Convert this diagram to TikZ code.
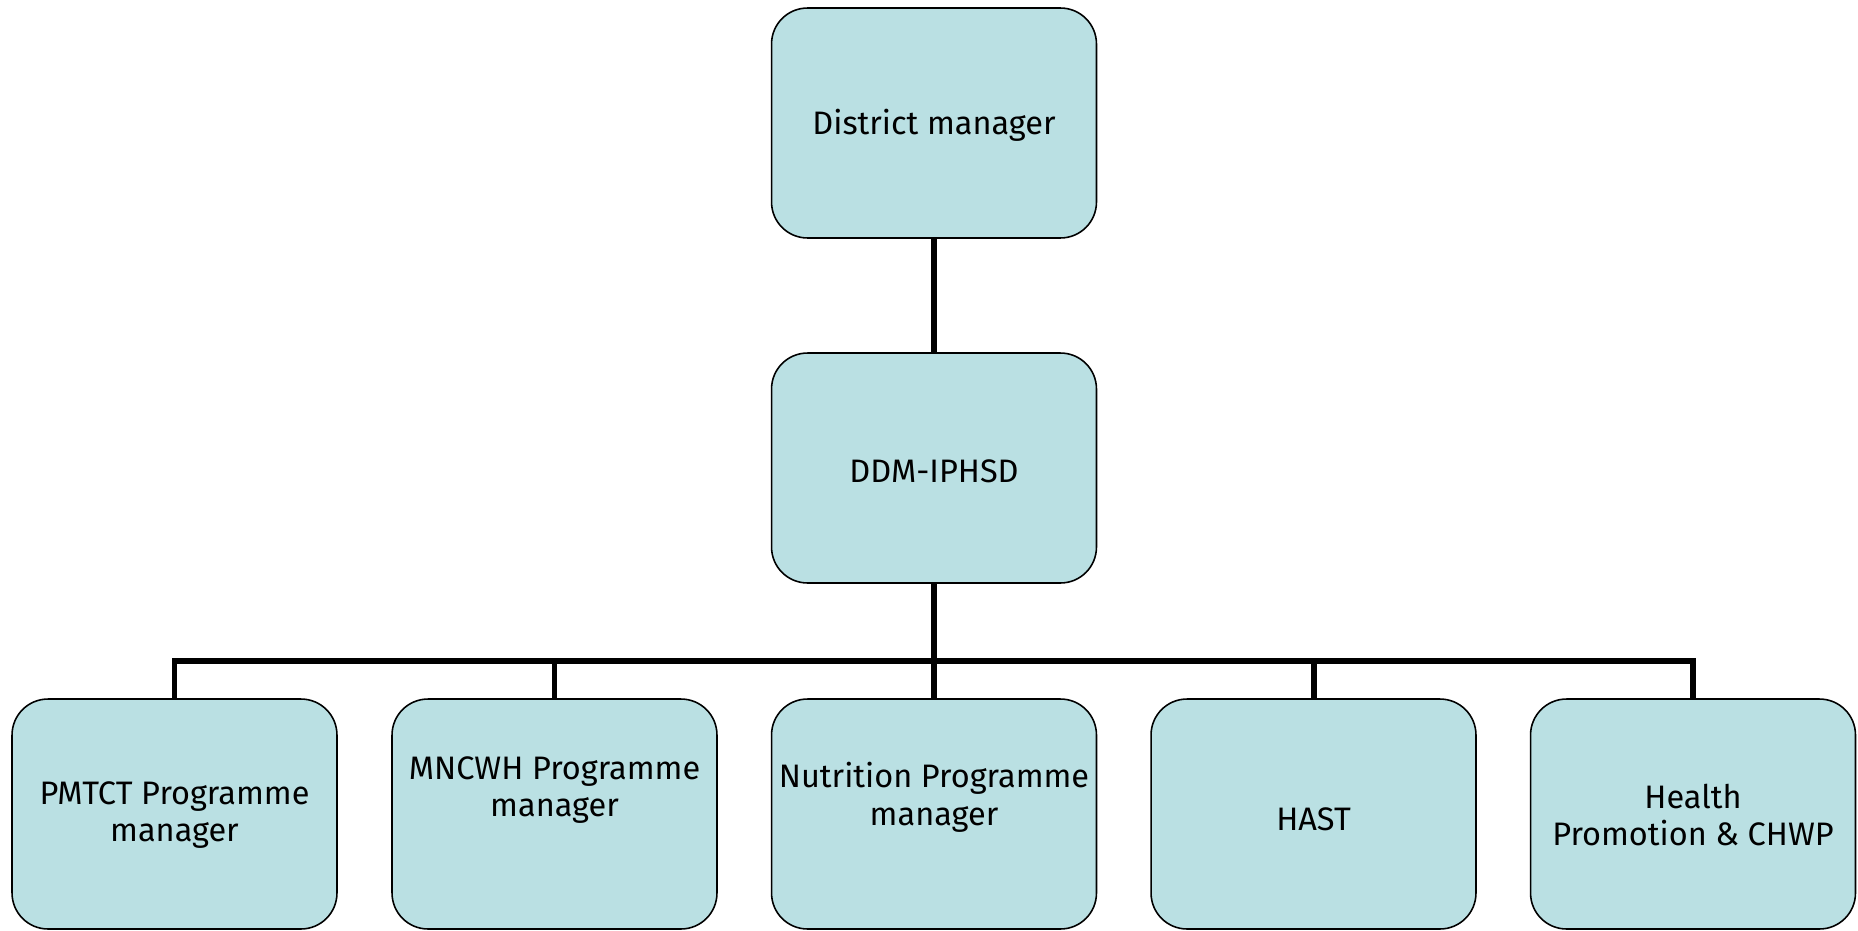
\documentclass[tikz,border=0pt]{standalone}
\usepackage{fontspec}
\setmainfont{Fira Sans}
\begin{document}
\begin{tikzpicture}[x=0.02cm,y=-0.02cm,
  box/.style={draw=black, line width=0.9pt, fill=boxfill, rounded corners=0.72cm,
    minimum width=6.5cm, minimum height=4.6cm, inner sep=0pt, align=center,
    font=\fontsize{18.5}{21.5}\selectfont},
  lbl/.style={font=\fontsize{18.5}{21.5}\selectfont, align=center, inner sep=0pt},
  conn/.style={line width=3.4pt}]
\definecolor{boxfill}{HTML}{BAE0E3}
\useasboundingbox (0,0) rectangle (1858,930);
\node[box] (dm) at (934,123) {};
\node[box] (ddm) at (934,468) {};
\node[box] (p1) at (174.5,814) {};
\node[box] (p2) at (554.5,814) {};
\node[box] (p3) at (934,814) {};
\node[box] (p4) at (1313.5,814) {};
\node[box] (p5) at (1693,814) {};
\node[lbl] (t0) at (934,125) {District manager};
\node[lbl] (td) at (934,471) {DDM-IPHSD};
\node[lbl] (t1) at (174.5,815) {PMTCT Programme\\manager};
\node[lbl] (t2) at (554.5,790) {MNCWH Programme\\manager};
\node[lbl] (t3) at (934,797) {Nutrition Programme\\manager};
\node[lbl] (t4) at (1313.5,819) {HAST};
\node[lbl] (t5) at (1693,815) {Health\\Promotion \& CHWP};
\coordinate (bar) at (934,661);
\draw[conn] (dm.south) -- (ddm.north);
\draw[conn] (ddm.south) -- (p3.north);
\draw[conn] (p1.north) |- (bar) -| (p5.north);
\draw[conn] (p2.north) -- (p2.north |- bar);
\draw[conn] (p4.north) -- (p4.north |- bar);
\end{tikzpicture}
\end{document}
